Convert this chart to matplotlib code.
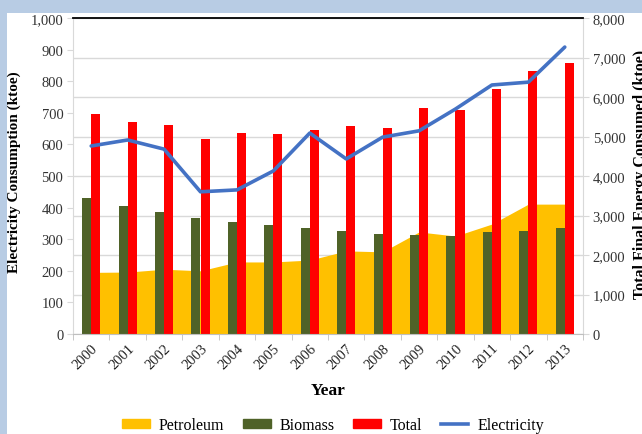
import numpy as np
import matplotlib
matplotlib.use("Agg")
import matplotlib.pyplot as plt
from matplotlib.patches import Rectangle, Patch
from matplotlib.lines import Line2D
from matplotlib.ticker import FuncFormatter

plt.rcParams['font.family'] = ['Liberation Serif', 'DejaVu Serif']

years = ['2000', '2001', '2002', '2003', '2004', '2005', '2006',
         '2007', '2008', '2009', '2010', '2011', '2012', '2013']
# right axis (ktoe)
petroleum = [1560, 1568, 1640, 1600, 1824, 1824, 1872, 2104, 2080, 2584, 2480, 2784, 3288, 3288]
biomass = [3440, 3240, 3088, 2936, 2832, 2760, 2680, 2608, 2528, 2504, 2480, 2576, 2608, 2680]
total = [5560, 5376, 5296, 4944, 5088, 5072, 5176, 5256, 5216, 5728, 5664, 6190, 6670, 6870]
# left axis (ktoe)
electricity = [595, 614, 585, 450, 456, 516, 636, 554, 623, 643, 712, 788, 797, 908]

W, H = 642, 435
fig = plt.figure(figsize=(W/100, H/100), dpi=100)
fig.patch.set_facecolor('#b8cce4')
fig.add_artist(Rectangle((7/W, 0), 1, 1 - 14/H, transform=fig.transFigure,
                         facecolor='white', edgecolor='none', zorder=0))

ax = fig.add_axes([73/W, 1 - 335/H, (583-73)/W, (335-19)/H])
ax2 = ax.twinx()
ax.set_zorder(2); ax.patch.set_visible(False)
ax2.set_zorder(1); ax2.patch.set_visible(False)

x = np.arange(len(years))
ax2.fill_between(x, petroleum, color='#ffc000', lw=0, zorder=2)
ax2.bar(x - 0.125, biomass, 0.25, color='#4f6228', zorder=3)
ax2.bar(x + 0.125, total, 0.25, color='#ff0000', zorder=3)
ax.plot(x, electricity, color='#4472c4', lw=2.6, solid_capstyle='round', zorder=4)

ax.set_xlim(-0.5, len(years) - 0.5)
ax.set_ylim(0, 1000)
ax2.set_ylim(0, 8000)
ax.set_yticks(np.arange(0, 1001, 100))
ax2.set_yticks(np.arange(0, 8001, 1000))
ax2.grid(axis='y', color='#d9d9d9', lw=1, zorder=0)
ax2.set_axisbelow(True)

fmt = FuncFormatter(lambda v, p: f"{int(v):,}")
ax.yaxis.set_major_formatter(fmt)
ax2.yaxis.set_major_formatter(fmt)

ax.set_xticks(x)
ax.set_xticklabels(years, rotation=45, ha='right', rotation_mode='anchor')
ax.set_xticks(np.arange(-0.5, len(years)), minor=True)
ax.tick_params(axis='x', which='major', length=0, pad=5, labelsize=10.5, labelcolor='#222222')
ax.tick_params(axis='x', which='minor', length=4, color='#bfbfbf')
ax.tick_params(axis='y', length=4, color='#d9d9d9', labelsize=10.5, labelcolor='#333333', pad=3)
ax2.tick_params(axis='y', length=4, color='#d9d9d9', labelsize=10.5, labelcolor='#333333', pad=3)

for s in ['right', 'bottom', 'left', 'top']:
    ax2.spines[s].set_visible(False)
ax.spines['right'].set_visible(False)
ax.spines['left'].set_color('#d9d9d9')
ax.spines['bottom'].set_color('#bfbfbf')
ax.spines['top'].set_color('black')
ax.spines['top'].set_linewidth(1.3)
ax2.spines['right'].set_visible(True)
ax2.spines['right'].set_color('#d9d9d9')

fig.text(14/W, 1 - 172/H, 'Electricity Consumption (ktoe)', rotation=90,
         ha='center', va='center', fontsize=11, fontweight='bold')
# right label is clipped by the frame edge, as in the original
fig.text(633/W, 1 - 174/H, 'Total Final Energy Consumed (ktoe)', rotation=90,
         ha='left', va='center', fontsize=11.5, fontweight='bold')
fig.text(328/W, 1 - 391/H, 'Year', ha='center', va='center', fontsize=12.5, fontweight='bold')

handles = [Patch(color='#ffc000'), Patch(color='#4f6228'), Patch(color='#ff0000'),
           Line2D([], [], color='#4472c4', lw=2.6)]
fig.legend(handles, ['Petroleum', 'Biomass', 'Total', 'Electricity'],
           loc='center', bbox_to_anchor=(333/W, 1 - 426/H), ncol=4, frameon=False,
           fontsize=11.5, handlelength=1.75, handleheight=0.5, columnspacing=1.15,
           handletextpad=0.55, borderpad=0.2)

fig.savefig('out.png', dpi=100)
